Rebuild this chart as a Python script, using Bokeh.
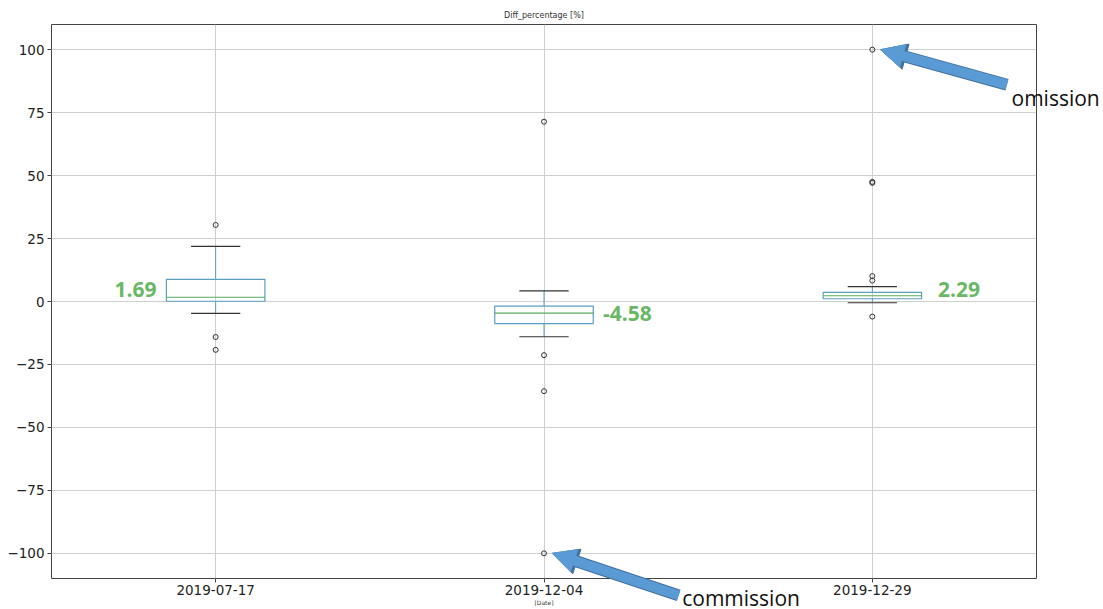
from bokeh.plotting import figure
from bokeh.models import Range1d, FixedTicker, Label, Arrow, NormalHead
from bokeh.embed import file_html
from bokeh.resources import INLINE

# Box-plot statistics of Diff_percentage per acquisition date
dates = ["2019-07-17", "2019-12-04", "2019-12-29"]
q1 = [0.1, -8.8, 1.1]
median = [1.69, -4.58, 2.29]
q3 = [8.8, -1.8, 3.65]
whisker_low = [-4.7, -14.0, -0.5]
whisker_high = [21.9, 4.2, 5.9]
outliers = [
    [30.4, -14.1, -19.2],
    [71.4, -21.3, -35.6, -100.0],
    [100.0, 47.5, 47.1, 10.1, 8.3, -6.0],
]

xs = [i + 1 for i in range(len(dates))]
box_w = 0.3
cap_w = 0.15

# page geometry
W, H = 1103, 609
BL, BR, BT, BB = 51, 67, 24, 31
X0, X1 = 0.5, 3.5
Y0, Y1 = -110.0, 110.0

p = figure(width=W, height=H, output_backend="svg", toolbar_location=None,
           x_range=Range1d(X0, X1), y_range=Range1d(Y0, Y1),
           min_border_left=BL, min_border_right=BR, min_border_top=BT,
           min_border_bottom=BB)
p.outline_line_color = "#444444"
p.outline_line_width = 1
p.background_fill_color = "white"
p.border_fill_color = "white"

p.title.text = "Diff_percentage [%]"
p.title.align = "center"
p.title.text_font = "DejaVu Sans"
p.title.text_font_size = "8px"
p.title.text_font_style = "normal"
p.title.text_color = "#333333"

# axes
p.xaxis.ticker = FixedTicker(ticks=xs)
p.xaxis.major_label_overrides = {x: d for x, d in zip(xs, dates)}
p.xaxis.axis_label = "[Date]"
p.xaxis.axis_label_text_font_size = "6px"
p.xaxis.axis_label_text_font_style = "normal"
p.xaxis.axis_label_standoff = 1
p.xaxis.major_label_standoff = 2

yticks = [-100, -75, -50, -25, 0, 25, 50, 75, 100]
p.yaxis.ticker = FixedTicker(ticks=yticks)
p.yaxis.major_label_overrides = {t: (str(t).replace("-", "\u2212")) for t in yticks}
p.yaxis.major_label_standoff = 3

for ax in (p.xaxis, p.yaxis):
    ax.axis_line_color = None
    ax.major_tick_in = 0
    ax.major_tick_out = 4
    ax.major_tick_line_color = "#444444"
    ax.minor_tick_line_color = None
    ax.major_label_text_font = "DejaVu Sans"
    ax.major_label_text_font_size = "13.5px"
    ax.major_label_text_color = "#222222"
    ax.axis_label_text_font = "DejaVu Sans"
    ax.axis_label_text_color = "#333333"

p.grid.grid_line_color = "#cfcfcf"
p.grid.grid_line_width = 1

box_color = "#5a9ec0"
median_color = "#5aa861"
cap_color = "#333333"

# whiskers
p.segment(x0=xs, y0=q3, x1=xs, y1=whisker_high, line_color=box_color, line_width=1)
p.segment(x0=xs, y0=q1, x1=xs, y1=whisker_low, line_color=box_color, line_width=1)
# caps
p.segment(x0=[x - cap_w / 2 for x in xs], y0=whisker_high,
          x1=[x + cap_w / 2 for x in xs], y1=whisker_high, line_color=cap_color, line_width=1.2)
p.segment(x0=[x - cap_w / 2 for x in xs], y0=whisker_low,
          x1=[x + cap_w / 2 for x in xs], y1=whisker_low, line_color=cap_color, line_width=1.2)
# boxes
p.quad(left=[x - box_w / 2 for x in xs], right=[x + box_w / 2 for x in xs],
       bottom=q1, top=q3, fill_color="white", fill_alpha=0.0,
       line_color=box_color, line_width=1.2)
# medians
p.segment(x0=[x - box_w / 2 for x in xs], y0=median,
          x1=[x + box_w / 2 for x in xs], y1=median, line_color=median_color, line_width=1.2)
# fliers
fx = [x for x, vals in zip(xs, outliers) for _ in vals]
fy = [v for vals in outliers for v in vals]
p.scatter(fx, fy, marker="circle", size=5, fill_color=None,
          line_color="#333333", line_width=1)

# median value labels
label_dx = [-0.18, 0.18, 0.2]
label_dy = [3.0, 0.0, 2.3]
label_align = ["right", "left", "left"]
for x, m, dx, dy, al in zip(xs, median, label_dx, label_dy, label_align):
    p.add_layout(Label(x=x + dx, y=m + dy, text=f"{m:.2f}", text_align=al,
                       text_baseline="middle", text_font="Open Sans",
                       text_font_style="bold", text_font_size="21px",
                       text_color="#6ab866"))

# Transparent overlay spanning the whole page, with ranges extended so that
# its data coordinates coincide with those of the main plot; the callouts
# can then reach into the margins without being clipped by the frame.
fw, fh = W - BL - BR, H - BT - BB
sx, sy = (X1 - X0) / fw, (Y1 - Y0) / fh
ov = figure(width=W, height=H, output_backend="svg", toolbar_location=None,
            x_range=Range1d(X0 - BL * sx, X1 + BR * sx),
            y_range=Range1d(Y0 - BB * sy, Y1 + BT * sy),
            min_border=0, x_axis_type=None, y_axis_type=None,
            background_fill_color=None, border_fill_color=None,
            outline_line_color=None)
ov.grid.visible = False
ov.styles = {"position": "absolute", "left": "0px", "top": "0px"}

arrow_fill = "#5b9bd5"
arrow_edge = "#41719c"
callouts = [
    ("omission", 3, 100.0, 3.41, 86.1, 3.424, 81.0),
    ("commission", 2, -100.0, 2.41, -116.7, 2.421, -117.9),
]
for text, xc, yc, xt, yt, lx, ly in callouts:
    ov.add_layout(Arrow(x_start=xt, y_start=yt, x_end=xc + 0.025, y_end=yc,
                        line_color=arrow_edge, line_width=12,
                        end=NormalHead(size=26, fill_color=arrow_edge,
                                       line_color=arrow_edge, line_width=1)))
    ov.add_layout(Arrow(x_start=xt, y_start=yt, x_end=xc + 0.025, y_end=yc,
                        line_color=arrow_fill, line_width=10,
                        end=NormalHead(size=23, fill_color=arrow_fill,
                                       line_color=arrow_fill, line_width=1)))
    ov.add_layout(Label(x=lx, y=ly, text=text, text_align="left",
                        text_baseline="middle", text_font="Open Sans",
                        text_font_size="21px", text_color="#111111"))

open("out.html", "w").write(file_html([p, ov], INLINE))
